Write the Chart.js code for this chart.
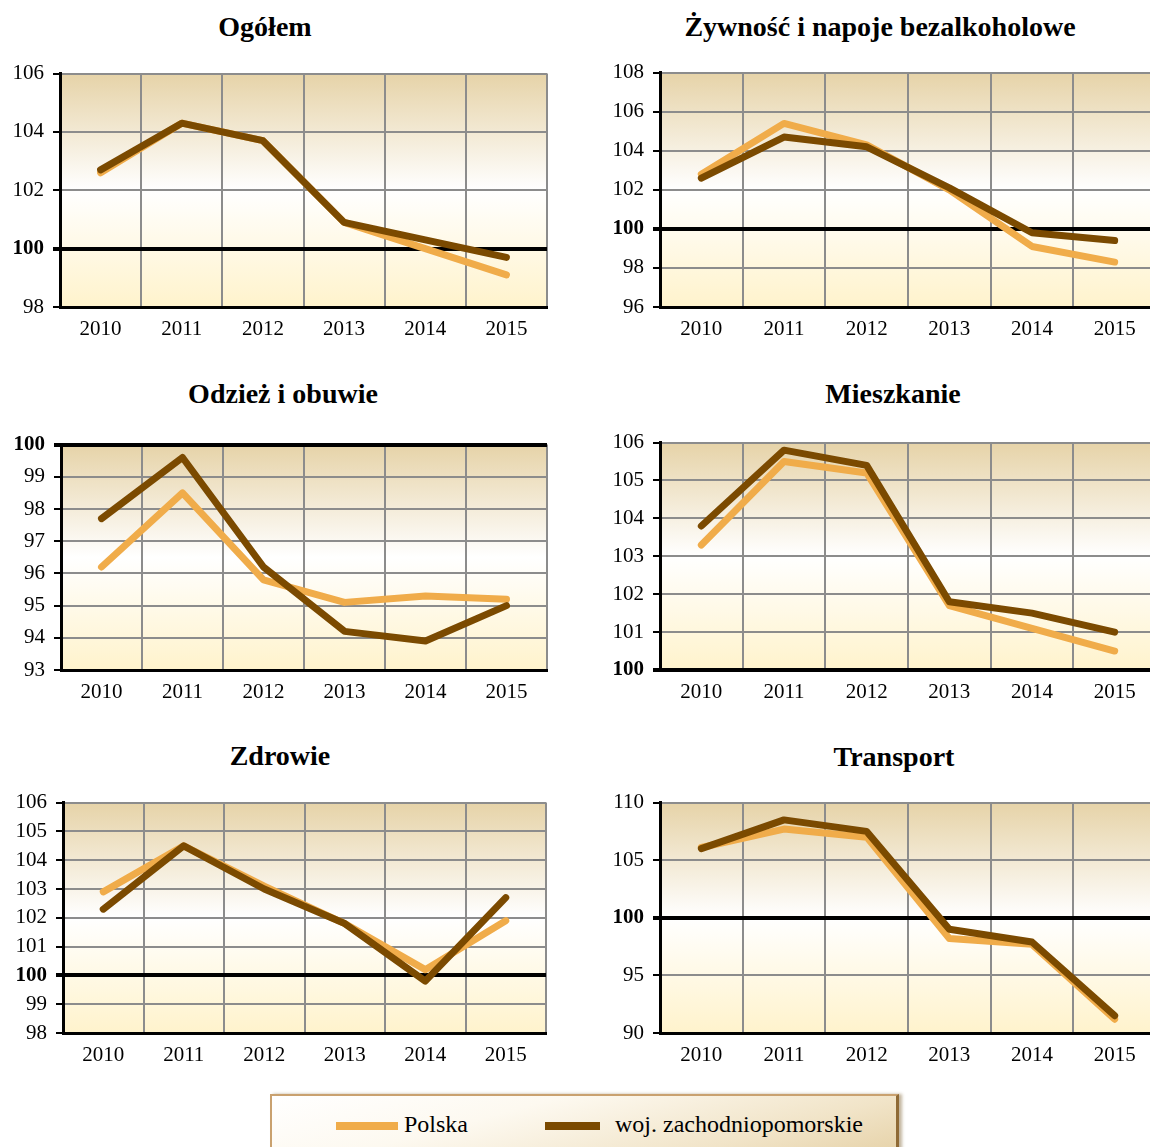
<!DOCTYPE html>
<html>
<head>
<meta charset="utf-8">
<script src="https://cdn.jsdelivr.net/npm/chart.js@4.4.0/dist/chart.umd.min.js"></script>
<style>
html,body{margin:0;padding:0;background:#fff;width:1150px;height:1147px;overflow:hidden;position:relative;font-family:"Liberation Serif","Times New Roman",serif;}
canvas{position:absolute;}
.title{position:absolute;font-weight:bold;font-size:28px;transform:translate(-50%,-50%);white-space:nowrap;color:#000;line-height:1;}
#legend{position:absolute;left:270px;top:1094px;width:629px;height:60px;box-sizing:border-box;
  border-top:2px solid #C9A16F;border-left:2px solid #C9A16F;border-right:3px solid #8F6A35;
  background:linear-gradient(165deg,#ffffff 0%,#fdf9f0 35%,#f1e4c8 75%,#e6d2a8 100%);
  box-shadow:3px 0 3px rgba(120,90,40,0.45);}
.lg-sample{position:absolute;height:8px;top:26px;}
.lg-text{position:absolute;top:16px;font-size:24px;line-height:1;color:#000;white-space:nowrap;}
</style>
</head>
<body>
<div id="legend"></div>
<script>
// ---- data ----
const years = ['2010', '2011', '2012', '2013', '2014', '2015'];
const seriesNames = ['Polska', 'woj. zachodniopomorskie'];
const titles = ['Ogółem', 'Żywność i napoje bezalkoholowe', 'Odzież i obuwie', 'Mieszkanie', 'Zdrowie', 'Transport'];

const ogolemPolska = [102.6, 104.3, 103.7, 100.9, 100.0, 99.1];
const ogolemWoj    = [102.7, 104.3, 103.7, 100.9, 100.3, 99.7];
const zywnoscPolska = [102.8, 105.4, 104.3, 102.0, 99.1, 98.3];
const zywnoscWoj    = [102.6, 104.7, 104.2, 102.1, 99.8, 99.4];
const odziezPolska = [96.2, 98.5, 95.8, 95.1, 95.3, 95.2];
const odziezWoj    = [97.7, 99.6, 96.2, 94.2, 93.9, 95.0];
const mieszkaniePolska = [103.3, 105.5, 105.2, 101.7, 101.1, 100.5];
const mieszkanieWoj    = [103.8, 105.8, 105.4, 101.8, 101.5, 101.0];
const zdrowiePolska = [102.9, 104.5, 103.1, 101.8, 100.2, 101.9];
const zdrowieWoj    = [102.3, 104.5, 103.0, 101.8, 99.8, 102.7];
const transportPolska = [106.1, 107.7, 107.0, 98.2, 97.7, 91.2];
const transportWoj    = [106.0, 108.5, 107.5, 99.0, 97.9, 91.5];

const axisMin  = [98, 96, 93, 100, 98, 90];
const axisMax  = [106, 108, 100, 106, 106, 110];
const axisStep = [2, 2, 1, 1, 1, 5];
const referenceValue = 100;

// ---- styles / layout ----
const colors = ['#F0AC4A', '#7B4A00'];
const FONT = '"Liberation Serif", "Times New Roman", serif';
const layoutRects = [ // plot area L,T,R,B and title centre
  {rect: [60, 72, 547, 307],  tc: [265, 27]},
  {rect: [660, 71, 1156, 307], tc: [880, 27]},
  {rect: [61, 443, 547, 670], tc: [283, 394]},
  {rect: [660, 441, 1156, 670], tc: [893, 394]},
  {rect: [63, 801, 546, 1033], tc: [280, 756]},
  {rect: [660, 801, 1156, 1033], tc: [894, 757]}
];
const seriesPol = [ogolemPolska, zywnoscPolska, odziezPolska, mieszkaniePolska, zdrowiePolska, transportPolska];
const seriesWoj = [ogolemWoj, zywnoscWoj, odziezWoj, mieszkanieWoj, zdrowieWoj, transportWoj];

const bgPlugin = {
  id: 'plotBg',
  beforeDraw(chart) {
    const a = chart.chartArea, ctx = chart.ctx;
    const g = ctx.createLinearGradient(0, a.top, 0, a.bottom);
    g.addColorStop(0, '#E6D3A8');
    g.addColorStop(0.5, '#FFFFFF');
    g.addColorStop(1, '#FFF3CC');
    ctx.save();
    ctx.fillStyle = g;
    ctx.fillRect(a.left, a.top, a.right - a.left, a.bottom - a.top);
    ctx.restore();
  }
};

const YW = 60, PT = 20, XH = 45, PR = 4;
layoutRects.forEach((p, i) => {
  const [L, T, R, B] = p.rect;
  const t = document.createElement('div');
  t.className = 'title';
  t.textContent = titles[i];
  t.style.left = p.tc[0] + 'px';
  t.style.top = p.tc[1] + 'px';
  document.body.appendChild(t);

  const c = document.createElement('canvas');
  const w = R - L + YW + PR, h = B - T + PT + XH;
  c.width = w; c.height = h;
  c.style.left = (L - YW) + 'px';
  c.style.top = (T - PT) + 'px';
  c.style.width = w + 'px';
  c.style.height = h + 'px';
  document.body.appendChild(c);

  const isRef = ctx => ctx.tick && Math.abs(ctx.tick.value - referenceValue) < 1e-9;
  const lineStyle = {borderWidth: 7, pointRadius: 0, pointHoverRadius: 0, tension: 0,
    borderCapStyle: 'round', borderJoinStyle: 'round', fill: false};

  new Chart(c, {
    type: 'line',
    data: {
      labels: years,
      datasets: [
        Object.assign({label: seriesNames[0], data: seriesPol[i], borderColor: colors[0], backgroundColor: colors[0], order: 1}, lineStyle),
        Object.assign({label: seriesNames[1], data: seriesWoj[i], borderColor: colors[1], backgroundColor: colors[1], order: 0}, lineStyle)
      ]
    },
    options: {
      responsive: false, animation: false, devicePixelRatio: 1,
      layout: {padding: {top: PT, right: PR, bottom: 0, left: 0}},
      plugins: {legend: {display: false}, tooltip: {enabled: false}, title: {display: false}},
      scales: {
        x: {
          offset: true,
          grid: {offset: true, color: '#8C8C8C', lineWidth: 2, drawTicks: false},
          border: {color: '#000', width: 3},
          ticks: {color: '#000', font: {family: FONT, size: 21}, padding: 10, maxRotation: 0, autoSkip: false},
          afterFit: s => { s.height = XH; }
        },
        y: {
          min: axisMin[i], max: axisMax[i],
          grid: {
            color: ctx => isRef(ctx) ? '#000' : '#8C8C8C',
            lineWidth: ctx => isRef(ctx) ? 4 : 2,
            tickLength: 7,
            tickColor: '#000',
            tickWidth: ctx => isRef(ctx) ? 4 : 2
          },
          border: {color: '#000', width: 3},
          ticks: {
            stepSize: axisStep[i], color: '#000', padding: 9,
            font: ctx => ({family: FONT, size: 21, weight: isRef(ctx) ? 'bold' : 'normal'})
          },
          afterFit: s => { s.width = YW; }
        }
      }
    },
    plugins: [bgPlugin]
  });
});

// legend
const lg = document.getElementById('legend');
const lgPos = [[64, 132], [273, 343]];
seriesNames.forEach((n, k) => {
  const s = document.createElement('div');
  s.className = 'lg-sample';
  s.style.left = lgPos[k][0] + 'px';
  s.style.width = (k === 0 ? 62 : 55) + 'px';
  s.style.background = colors[k];
  lg.appendChild(s);
  const tx = document.createElement('div');
  tx.className = 'lg-text';
  tx.style.left = lgPos[k][1] + 'px';
  tx.textContent = n;
  lg.appendChild(tx);
});
</script>
</body>
</html>
